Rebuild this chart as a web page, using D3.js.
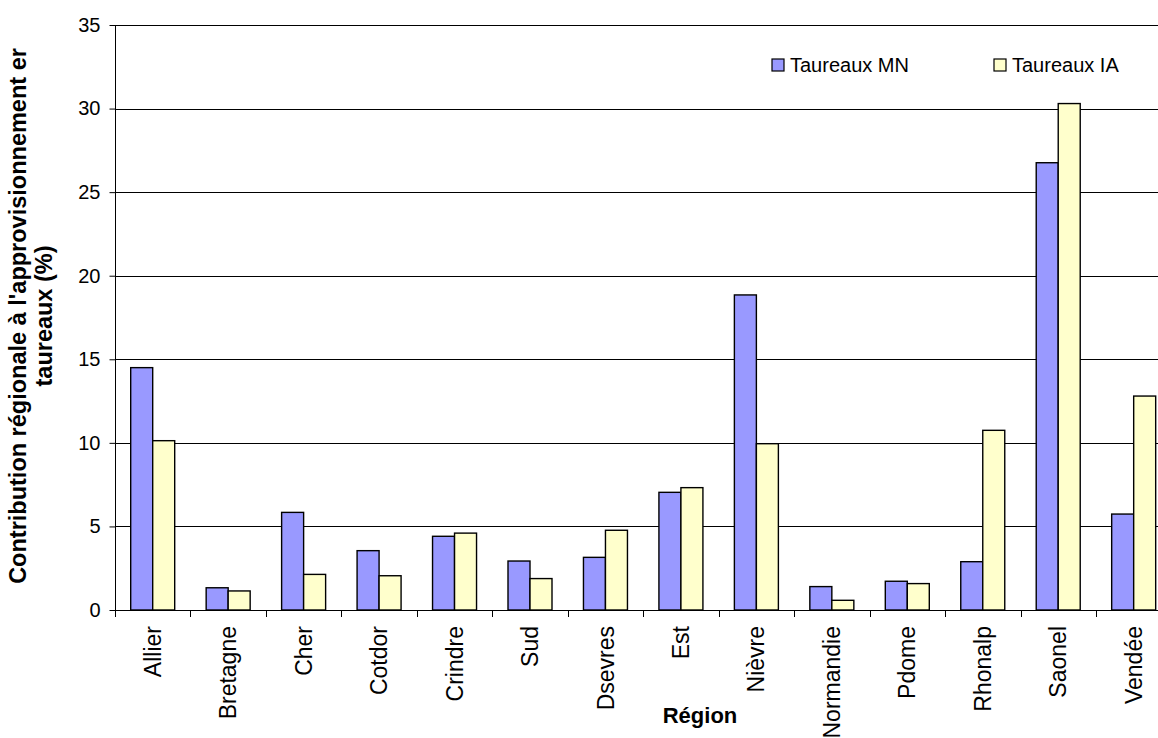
<!DOCTYPE html>
<html>
<head>
<meta charset="utf-8">
<script src="https://cdn.jsdelivr.net/npm/d3@7"></script>
<style>
  html, body { margin: 0; padding: 0; background: #fff; }
  svg { display: block; font-family: "Liberation Sans", Arial, sans-serif; }
</style>
</head>
<body>
<svg id="chart" width="1158" height="738"></svg>
<script>
// Regional contribution to bull supply (%), natural mating vs AI bulls
const regions = ["Allier", "Bretagne", "Cher", "Cotdor", "Crindre", "Sud", "Dsevres",
                 "Est", "Nièvre", "Normandie", "Pdome", "Rhonalp", "Saonel", "Vendée"];
const seriesNames = ["Taureaux MN", "Taureaux IA"];
const taureauxMN = [14.5, 1.33, 5.84, 3.55, 4.41, 2.93, 3.15, 7.04, 18.85, 1.4, 1.72, 2.89, 26.76, 5.74];
const taureauxIA = [10.13, 1.14, 2.13, 2.05, 4.6, 1.88, 4.77, 7.32, 9.95, 0.58, 1.58, 10.75, 30.3, 12.8];
const yTicks = [0, 5, 10, 15, 20, 25, 30, 35];
const seriesColors = ["#9999FF", "#FFFFCC"];

const svg = d3.select("#chart");
const plotLeft = 115, plotTop = 25, plotBottom = 610;
const step = 75.46;
const plotRight = plotLeft + step * regions.length;

const x0 = d3.scaleBand().domain(regions).range([plotLeft, plotRight]).padding(0);
const x1 = d3.scaleBand().domain(seriesNames).range([15.7, 15.7 + 44]).padding(0);
const y = d3.scaleLinear().domain([0, 35]).range([plotBottom, plotTop]);

// horizontal gridlines
svg.append("g")
  .selectAll("line")
  .data(yTicks.filter(d => d > 0))
  .join("line")
  .attr("x1", plotLeft).attr("x2", plotRight)
  .attr("y1", d => Math.round(y(d)) + 0.5).attr("y2", d => Math.round(y(d)) + 0.5)
  .attr("stroke", "#000").attr("stroke-width", 1);

// bars
const rows = regions.map((r, i) => ({ region: r, values: [taureauxMN[i], taureauxIA[i]] }));
const groups = svg.append("g")
  .selectAll("g")
  .data(rows)
  .join("g")
  .attr("transform", d => `translate(${x0(d.region)},0)`);

groups.selectAll("rect")
  .data(d => d.values.map((v, j) => ({ name: seriesNames[j], value: v, j })))
  .join("rect")
  .attr("x", d => x1(d.name))
  .attr("width", x1.bandwidth())
  .attr("y", d => y(d.value))
  .attr("height", d => y(0) - y(d.value))
  .attr("fill", d => seriesColors[d.j])
  .attr("stroke", "#000")
  .attr("stroke-width", 1.4);

// y axis
const yAxis = d3.axisLeft(y).tickValues(yTicks).tickSize(6).tickPadding(9).tickFormat(d3.format("d"));
const gy = svg.append("g").attr("transform", `translate(${plotLeft + 0.5},0)`).call(yAxis);
gy.select(".domain").attr("d", `M0,${plotTop}V${plotBottom + 7}`).attr("stroke", "#000");
gy.selectAll(".tick line").attr("stroke", "#000");
gy.selectAll(".tick text").attr("font-size", 20).attr("fill", "#000")
  .attr("font-family", "Liberation Sans, Arial, sans-serif");

// x axis line and category separators
svg.append("line")
  .attr("x1", plotLeft).attr("x2", plotRight)
  .attr("y1", plotBottom + 0.5).attr("y2", plotBottom + 0.5)
  .attr("stroke", "#000").attr("stroke-width", 1);
svg.append("g")
  .selectAll("line")
  .data(regions.slice(1).concat(["__end"]))
  .join("line")
  .attr("x1", d => Math.round(d === "__end" ? plotRight : x0(d)) + 0.5)
  .attr("x2", d => Math.round(d === "__end" ? plotRight : x0(d)) + 0.5)
  .attr("y1", plotBottom).attr("y2", plotBottom + 7)
  .attr("stroke", "#000");

// category labels
svg.append("g")
  .selectAll("text")
  .data(regions)
  .join("text")
  .attr("transform", d => `translate(${x0(d) + step / 2},626) rotate(-90)`)
  .attr("text-anchor", "end")
  .attr("dy", "0.35em")
  .attr("font-size", 23)
  .attr("fill", "#000")
  .text(d => d);

// axis titles
svg.append("text")
  .attr("x", 700).attr("y", 723)
  .attr("text-anchor", "middle")
  .attr("font-size", 22).attr("font-weight", "bold")
  .text("Région");

const yTitle = svg.append("text")
  .attr("transform", "translate(0,316) rotate(-90)")
  .attr("text-anchor", "middle")
  .attr("font-size", 23.5).attr("font-weight", "bold");
yTitle.append("tspan").attr("x", 0).attr("y", 26).text("Contribution régionale à l'approvisionnement er");
yTitle.append("tspan").attr("x", 0).attr("y", 52).text("taureaux (%)");

// legend
const legendX = [772, 994];
const legend = svg.append("g")
  .selectAll("g")
  .data(seriesNames)
  .join("g")
  .attr("transform", (d, i) => `translate(${legendX[i]},59)`);
legend.append("rect")
  .attr("width", 12).attr("height", 12)
  .attr("fill", (d, i) => seriesColors[i])
  .attr("stroke", "#000").attr("stroke-width", 1.2);
legend.append("text")
  .attr("x", 18).attr("y", 13)
  .attr("font-size", 20)
  .attr("fill", "#000")
  .text(d => d);
</script>
</body>
</html>
